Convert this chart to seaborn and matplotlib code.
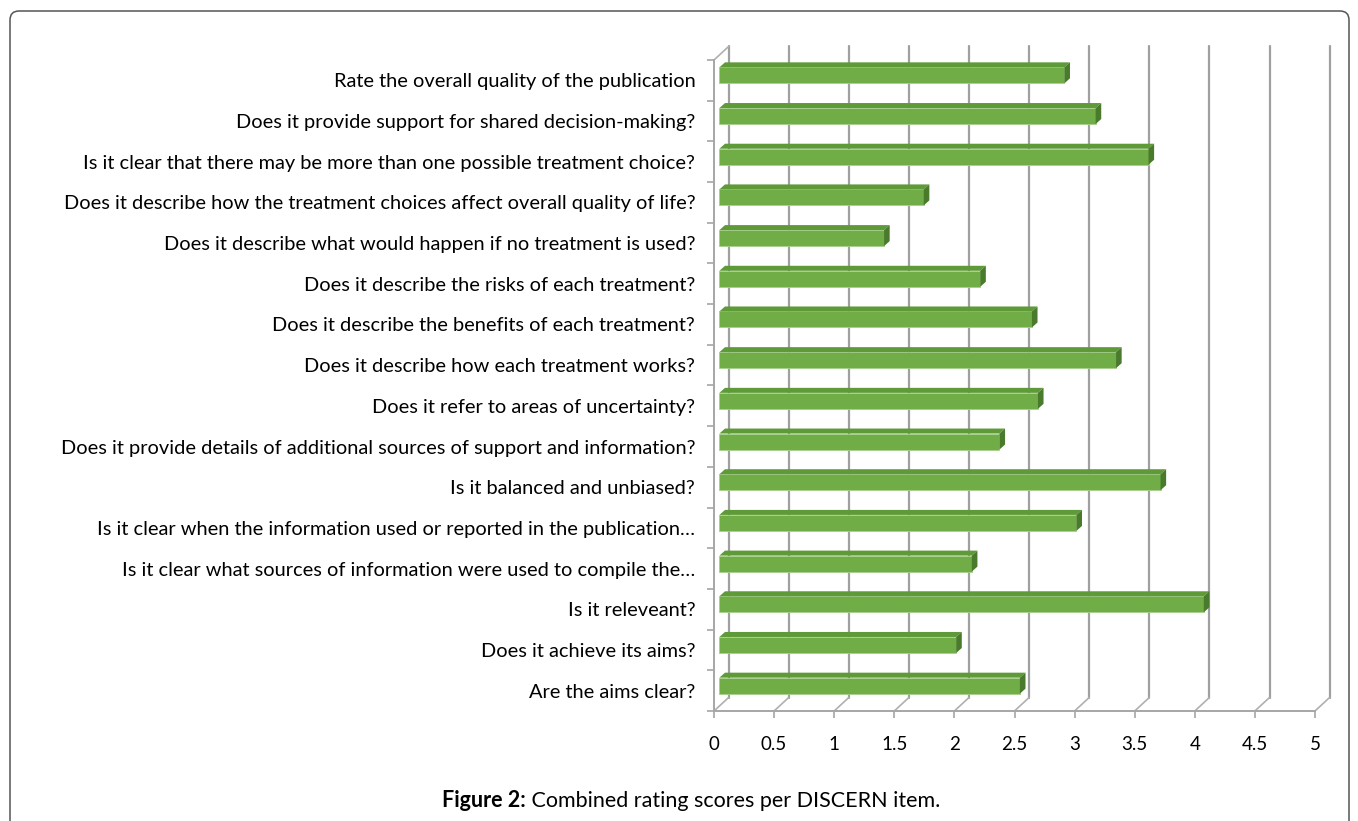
import numpy as np
import pandas as pd
import matplotlib
matplotlib.use("Agg")
import matplotlib.pyplot as plt
import seaborn as sns
from matplotlib.patches import Polygon, FancyBboxPatch
from matplotlib.transforms import ScaledTranslation, IdentityTransform

items = [
    "Rate the overall quality of the publication",
    "Does it provide support for shared decision-making?",
    "Is it clear that there may be more than one possible treatment choice?",
    "Does it describe how the treatment choices affect overall quality of life?",
    "Does it describe what would happen if no treatment is used?",
    "Does it describe the risks of each treatment?",
    "Does it describe the benefits of each treatment?",
    "Does it describe how each treatment works?",
    "Does it refer to areas of uncertainty?",
    "Does it provide details of additional sources of support and information?",
    "Is it balanced and unbiased?",
    "Is it clear when the information used or reported in the publication\u2026",
    "Is it clear what sources of information were used to compile the\u2026",
    "Is it releveant?",
    "Does it achieve its aims?",
    "Are the aims clear?",
]
scores = [2.87, 3.13, 3.57, 1.70, 1.37, 2.17, 2.60, 3.30, 2.65, 2.33,
          3.67, 2.97, 2.10, 4.03, 1.97, 2.50]
xticks = [0, 0.5, 1, 1.5, 2, 2.5, 3, 3.5, 4, 4.5, 5]
xticklabels = ["0", "0.5", "1", "1.5", "2", "2.5", "3", "3.5", "4", "4.5", "5"]

sns.set_theme(style="white")
plt.rcParams["font.family"] = ["Lato", "DejaVu Sans"]

W, H = 1358, 821
DPI = 100
fig = plt.figure(figsize=(W / DPI, H / DPI), dpi=DPI)
fig.patch.set_facecolor("white")

# frame around figure
frame = FancyBboxPatch((10, -40), 1339, 850, boxstyle="round,pad=0,rounding_size=9",
                       transform=IdentityTransform(), fill=False, edgecolor="#555555",
                       linewidth=1.1, zorder=0)
fig.add_artist(frame)

x_left, x_right, y_bot, y_top = 714, 1315, 711, 60
ax = fig.add_axes([x_left / W, 1 - y_bot / H, (x_right - x_left) / W, (y_bot - y_top) / H])
ax.set_facecolor("none")

front_col = "#70AD47"
top_col = "#5E9A38"
side_col = "#4A7A2C"

df = pd.DataFrame({"item": items, "score": scores})
sns.barplot(data=df, x="score", y="item", orient="h", color=front_col, saturation=1,
            width=16 / 40.7, ax=ax, zorder=3, edgecolor="#A8D08D", linewidth=0.6)

n = len(items)
ax.set_xlim(0, 5)
ax.set_ylim(n - 0.5, -0.5)

grid_col = "#A0A0A0"
DX, DY = 14.6, 13.5          # full depth offset (px)
BF = (5.4, 5.0)              # bar front offset
BB = (11.0, 10.0)            # bar back offset

# back wall grid lines
back = ax.transData + ScaledTranslation(DX / DPI, DY / DPI, fig.dpi_scale_trans)
for v in xticks:
    ax.plot([v, v], [n - 0.5, -0.5], transform=back, color=grid_col, lw=1.6,
            clip_on=False, zorder=1)
    p0 = ax.transData.transform((v, n - 0.5))
    ax.plot([p0[0], p0[0] + DX], [p0[1], p0[1] + DY], transform=IdentityTransform(),
            color="#B0B0B0", lw=1.2, clip_on=False, zorder=1)
# left wall top diagonal
pt = ax.transData.transform((0, -0.5))
ax.plot([pt[0], pt[0] + DX], [pt[1], pt[1] + DY], transform=IdentityTransform(),
        color="#B0B0B0", lw=1.2, clip_on=False, zorder=1)

# bars with pseudo-3D faces
fig.canvas.draw()
for p in ax.patches:
    x0, y0, w, h = p.get_x(), p.get_y(), p.get_width(), p.get_height()
    p.set_transform(ax.transData + ScaledTranslation(BF[0] / DPI, BF[1] / DPI, fig.dpi_scale_trans))
    (ax0, ay_top) = ax.transData.transform((x0, y0))
    (ax1, ay_bot) = ax.transData.transform((x0 + w, y0 + h))
    fx0, fx1 = ax0 + BF[0], ax1 + BF[0]
    fyt, fyb = ay_top + BF[1], ay_bot + BF[1]
    ddx, ddy = BB[0] - BF[0], BB[1] - BF[1]
    top = Polygon([(fx0, fyt), (fx1, fyt), (fx1 + ddx, fyt + ddy), (fx0 + ddx, fyt + ddy)],
                  closed=True, transform=IdentityTransform(), facecolor=top_col,
                  edgecolor="none", zorder=4, clip_on=False)
    side = Polygon([(fx1, fyt), (fx1 + ddx, fyt + ddy), (fx1 + ddx, fyb + ddy), (fx1, fyb)],
                   closed=True, transform=IdentityTransform(), facecolor=side_col,
                   edgecolor="none", zorder=4, clip_on=False)
    ax.add_patch(top)
    ax.add_patch(side)

# axes styling
for s in ["top", "right"]:
    ax.spines[s].set_visible(False)
for s in ["left", "bottom"]:
    ax.spines[s].set_color("#A6A6A6")
    ax.spines[s].set_linewidth(1.4)
    ax.spines[s].set_zorder(2)

ax.set_xticks(xticks)
ax.set_xticklabels(xticklabels)
ax.set_yticks(range(n))
ax.set_yticklabels(items)
ax.set_yticks(np.arange(-0.5, n, 1.0), minor=True)
ax.tick_params(axis="y", which="major", length=0, pad=13.5, labelsize=14.4, labelcolor="black")
ax.tick_params(axis="y", which="minor", left=True, length=5, width=1.2, color="#A6A6A6")
ax.tick_params(axis="x", which="major", bottom=True, length=5, width=1.2, color="#A6A6A6",
               pad=13, labelsize=13.5, labelcolor="black")
ax.set_xlabel("")
ax.set_ylabel("")
ax.grid(False)

# caption
r = fig.canvas.get_renderer()
t1 = fig.text(0, 0, "Figure 2:", fontsize=15.5, fontweight="bold", color="black")
t2 = fig.text(0, 0, " Combined rating scores per DISCERN item.", fontsize=15.5, color="black")
w1 = t1.get_window_extent(r).width
w2 = t2.get_window_extent(r).width
cx = 691
ybase = 1 - 807 / H
start = cx - (w1 + w2) / 2
t1.set_position((start / W, ybase))
t2.set_position(((start + w1) / W, ybase))

fig.savefig("out.png", dpi=DPI)
